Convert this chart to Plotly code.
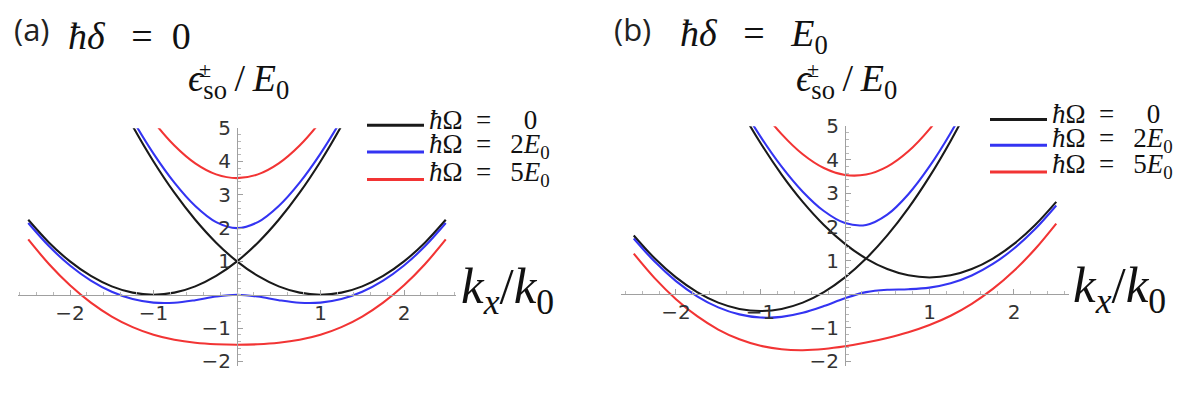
import plotly.graph_objects as go

# ---------------- data ----------------
k = [-2.5, -2.25, -2.0, -1.75, -1.5, -1.25, -1.0, -0.75, -0.5, -0.25, 0.0,
     0.25, 0.5, 0.75, 1.0, 1.25, 1.5, 1.75, 2.0, 2.25, 2.5]

# panel (a): hbar*delta = 0
a_omega0_branch1 = [2.25, 1.5625, 1.0, 0.5625, 0.25, 0.0625, 0.0, 0.0625, 0.25, 0.5625, 1.0,
                    1.5625, 2.25, 3.0625, 4.0, 5.0625, 6.25, 7.5625, 9.0, 10.5625, 12.25]
a_omega0_branch2 = [12.25, 10.5625, 9.0, 7.5625, 6.25, 5.0625, 4.0, 3.0625, 2.25, 1.5625, 1.0,
                    0.5625, 0.25, 0.0625, 0.0, 0.0625, 0.25, 0.5625, 1.0, 1.5625, 2.25]
a_omega2_upper = [12.349, 10.6723, 9.1231, 7.7026, 6.4123, 5.2551, 4.2361, 3.3653, 2.6642, 2.1805, 2.0,
                  2.1805, 2.6642, 3.3653, 4.2361, 5.2551, 6.4123, 7.7026, 9.1231, 10.6723, 12.349]
a_omega2_lower = [2.151, 1.4527, 0.8769, 0.4225, 0.0877, -0.1301, -0.2361, -0.2403, -0.1642, -0.0555, 0.0,
                  -0.0555, -0.1642, -0.2403, -0.2361, -0.1301, 0.0877, 0.4225, 0.8769, 1.4527, 2.151]
a_omega5_upper = [12.8402, 11.2103, 9.717, 8.3637, 7.1551, 6.098, 5.2016, 4.478, 3.9426, 3.612, 3.5,
                  3.612, 3.9426, 4.478, 5.2016, 6.098, 7.1551, 8.3637, 9.717, 11.2103, 12.8402]
a_omega5_lower = [1.6598, 0.9147, 0.283, -0.2387, -0.6551, -0.973, -1.2016, -1.353, -1.4426, -1.487, -1.5,
                  -1.487, -1.4426, -1.353, -1.2016, -0.973, -0.6551, -0.2387, 0.283, 0.9147, 1.6598]

# panel (b): hbar*delta = E0
b_omega0_branch1 = [1.75, 1.0625, 0.5, 0.0625, -0.25, -0.4375, -0.5, -0.4375, -0.25, 0.0625, 0.5,
                    1.0625, 1.75, 2.5625, 3.5, 4.5625, 5.75, 7.0625, 8.5, 10.0625, 11.75]
b_omega0_branch2 = [12.75, 11.0625, 9.5, 8.0625, 6.75, 5.5625, 4.5, 3.5625, 2.75, 2.0625, 1.5,
                    1.0625, 0.75, 0.5625, 0.5, 0.5625, 0.75, 1.0625, 1.5, 2.0625, 2.75]
b_omega2_upper = [12.8402, 11.1615, 9.6098, 8.1856, 6.8901, 5.7248, 4.6926, 3.7986, 3.0528, 2.4767, 2.118,
                  2.0625, 2.368, 2.9767, 3.8028, 4.7986, 5.9426, 7.2248, 8.6401, 10.1856, 11.8598]
b_omega2_lower = [1.6598, 0.9635, 0.3902, -0.0606, -0.3901, -0.5998, -0.6926, -0.6736, -0.5528, -0.3517, -0.118,
                  0.0625, 0.132, 0.1483, 0.1972, 0.3264, 0.5574, 0.9002, 1.36, 1.9394, 2.6402]
b_omega5_upper = [13.2915, 11.6527, 10.1478, 8.7795, 7.5512, 6.4676, 5.5355, 4.7641, 4.1655, 3.7551, 3.5495,
                  3.5625, 3.7995, 4.2551, 4.9155, 5.7641, 6.7855, 7.9676, 9.3012, 10.7795, 12.3978]
b_omega5_lower = [1.2085, 0.4723, -0.1478, -0.6545, -1.0512, -1.3426, -1.5355, -1.6391, -1.6655, -1.6301, -1.5495,
                  -1.4375, -1.2995, -1.1301, -0.9155, -0.6391, -0.2855, 0.1574, 0.6988, 1.3455, 2.1022]

x_tickvals = [-2, -1, 1, 2]
y_tickvals = [-2, -1, 1, 2, 3, 4, 5]
legend_labels = ["<i>ħ</i>Ω\u2002=\u2003\u20090",
                 "<i>ħ</i>Ω\u2002=\u2002\u20092<i>E</i><sub>0</sub>",
                 "<i>ħ</i>Ω\u2002=\u2002\u20095<i>E</i><sub>0</sub>"]
panel_tags = ["(a)", "(b)"]
panel_titles = ["<i>ħδ</i>\u2002\u2009=\u20020",
                "<i>ħδ</i>\u2002\u2009=\u2002\u2009<i>E</i><sub>0</sub>"]
y_title = "<i>ϵ</i><sub>so</sub>\u2009/\u2009<i>E</i><sub>0</sub>"
y_title_sup = "±"
x_title = "<i>k</i><sub><i>x</i></sub>/<i>k</i><sub>0</sub>"

# ---------------- style / layout ----------------
W, H = 1200, 395
COLORS = ["#1a1a1a", "#3434f2", "#f23434"]
SERIF = "Liberation Serif, DejaVu Serif, serif"
SANS = "DejaVu Sans, Liberation Sans, sans-serif"


def px(x):
    return x / W


def py(y):
    return 1 - y / H


panels = [
    dict(x0=237, xs=83.5, y0=297, ys=35.0, xr=(-2.62, 2.62), yr=(-2.15, 5.0),
         leg_x=367, leg_y=[119, 147, 176], tag_x=12, title_x=66, kx_x=459,
         series=[(a_omega0_branch1, a_omega0_branch2), (a_omega2_upper, a_omega2_lower),
                 (a_omega5_upper, a_omega5_lower)]),
    dict(x0=845, xs=84.5, y0=296.5, ys=35.3, xr=(-2.65, 2.65), yr=(-2.15, 5.0),
         leg_x=990, leg_y=[113, 140, 168], tag_x=612, title_x=678, kx_x=1071,
         series=[(b_omega0_branch1, b_omega0_branch2), (b_omega2_upper, b_omega2_lower),
                 (b_omega5_upper, b_omega5_lower)]),
]

fig = go.Figure()
layout = dict(width=W, height=H, margin=dict(l=0, r=0, t=0, b=0),
              paper_bgcolor="white", plot_bgcolor="white", showlegend=False)
annotations = []
shapes = []

axis_common = dict(showline=True, linecolor="#a0a0a0", linewidth=1, showgrid=False, zeroline=False,
                   ticks="inside", ticklen=5, tickwidth=1, tickcolor="#a0a0a0",
                   tickfont=dict(family=SANS, size=20, color="#333333"),
                   minor=dict(tickmode="linear", tick0=0, dtick=0.2, ticks="inside", ticklen=3,
                              tickcolor="#b8b8b8", showgrid=False),
                   fixedrange=True)


def ann(x, y, text, size, family=SERIF, xanchor="left", color="#111"):
    return dict(xref="paper", yref="paper", x=px(x), y=py(y), xanchor=xanchor, yanchor="middle",
                showarrow=False, text=text, font=dict(family=family, size=size, color=color))


for i, p in enumerate(panels):
    sx = "" if i == 0 else str(i + 1)
    xd = [px(p["x0"] + p["xr"][0] * p["xs"]), px(p["x0"] + p["xr"][1] * p["xs"])]
    yd = [py(p["y0"] - p["yr"][0] * p["ys"]), py(p["y0"] - p["yr"][1] * p["ys"])]
    layout["xaxis" + sx] = dict(axis_common, domain=xd, range=list(p["xr"]), tickvals=x_tickvals,
                                anchor="free", position=py(p["y0"]), ticklabelstandoff=0)
    layout["yaxis" + sx] = dict(axis_common, domain=yd, range=list(p["yr"]), tickvals=y_tickvals,
                                anchor="free", position=px(p["x0"]), ticklabelstandoff=2)
    for (ya, yb), c in zip(p["series"], COLORS):
        for yy in (ya, yb):
            fig.add_trace(go.Scatter(x=k, y=yy, mode="lines", xaxis="x" + sx, yaxis="y" + sx,
                                     line=dict(color=c, width=2.1, shape="spline", smoothing=1),
                                     hoverinfo="skip"))
    # legend
    for lab, c, ly in zip(legend_labels, COLORS, p["leg_y"]):
        shapes.append(dict(type="line", xref="paper", yref="paper",
                           x0=px(p["leg_x"]), x1=px(p["leg_x"] + 57), y0=py(ly), y1=py(ly),
                           line=dict(color=c, width=3)))
        annotations.append(ann(p["leg_x"] + 60, ly - 6, lab, 27))
    # panel tag and title
    annotations.append(ann(p["tag_x"], 18, panel_tags[i], 31,
                           family="Open Sans, Liberation Sans, sans-serif", color="#222"))
    annotations.append(ann(p["title_x"], 25, panel_titles[i], 38))
    # y-axis label
    annotations.append(ann(p["x0"] + 1, 73, y_title, 38, xanchor="center"))
    annotations.append(ann(p["x0"] - 32, 60, y_title_sup, 22, xanchor="center"))
    # x-axis label
    annotations.append(ann(p["kx_x"], p["y0"] - 5, x_title, 51))

layout["annotations"] = annotations
layout["shapes"] = shapes
fig.update_layout(**layout)
fig.write_html("out.html")
